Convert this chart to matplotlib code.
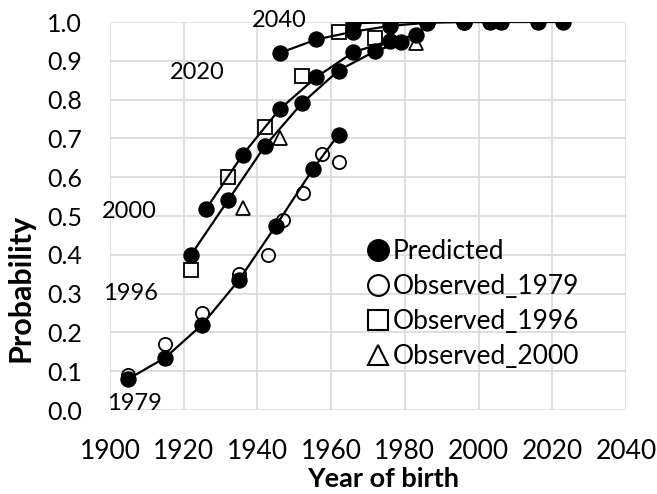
import matplotlib
matplotlib.use("Agg")
from matplotlib import pyplot as plt
from matplotlib.lines import Line2D

plt.rcParams['font.family'] = ['Lato', 'DejaVu Sans']

# predicted curves, one per survey year
pred_1979_x = [1905, 1915, 1925, 1935, 1945, 1955, 1962]
pred_1979_y = [0.08, 0.135, 0.22, 0.335, 0.475, 0.62, 0.71]
pred_1996_x = [1922, 1932, 1942, 1952, 1962, 1972, 1979]
pred_1996_y = [0.40, 0.54, 0.68, 0.79, 0.875, 0.925, 0.948]
pred_2000_x = [1926, 1936, 1946, 1956, 1966, 1976, 1983]
pred_2000_y = [0.517, 0.658, 0.775, 0.858, 0.922, 0.952, 0.966]
pred_2020_x = [1946, 1956, 1966, 1976, 1986, 1996, 2003]
pred_2020_y = [0.92, 0.955, 0.975, 0.99, 0.998, 1.0, 1.0]
pred_2040_x = [1966, 1976, 1986, 1996, 2006, 2016, 2023]
pred_2040_y = [0.997, 0.999, 1.0, 1.0, 1.0, 1.0, 1.0]

# observed
obs_1979_x = [1905, 1915, 1925, 1935, 1943, 1947, 1952.5, 1957.5, 1962]
obs_1979_y = [0.09, 0.17, 0.25, 0.35, 0.40, 0.49, 0.56, 0.66, 0.64]
obs_1996_x = [1922, 1932, 1942, 1952, 1962, 1972]
obs_1996_y = [0.36, 0.60, 0.73, 0.86, 0.975, 0.96]
obs_2000_x = [1936, 1946, 1983]
obs_2000_y = [0.52, 0.70, 0.945]

curve_labels = ["1979", "1996", "2000", "2020", "2040"]
label_x = [1906.5, 1905.5, 1905.2, 1923.6, 1945.9]
label_y = [0.018, 0.30, 0.512, 0.871, 1.005]

fig = plt.figure(figsize=(6.57, 4.94), dpi=100)
ax = fig.add_axes([110/657, 1-410/494, 516/657, 388/494])

curves = [(pred_1979_x, pred_1979_y), (pred_1996_x, pred_1996_y),
          (pred_2000_x, pred_2000_y), (pred_2020_x, pred_2020_y),
          (pred_2040_x, pred_2040_y)]
for cx, cy in curves:
    ax.plot(cx, cy, color='k', lw=1.6, marker='o', ms=10.8, zorder=3)

ax.plot(obs_1979_x, obs_1979_y, ls='none', marker='o', ms=9.5, mfc='none',
        mec='k', mew=1.3, zorder=4)
ax.plot(obs_1996_x, obs_1996_y, ls='none', marker='s', ms=9.5, mfc='none',
        mec='k', mew=1.3, zorder=4)
ax.plot(obs_2000_x, obs_2000_y, ls='none', marker='^', ms=10.5, mfc='none',
        mec='k', mew=1.3, zorder=4)

for t, lx, ly in zip(curve_labels, label_x, label_y):
    ax.text(lx, ly, t, ha='center', va='center', fontsize=17, clip_on=False)

ax.set_xlim(1900, 2040)
ax.set_ylim(0, 1.0)
ax.set_xticks(range(1900, 2041, 20))
ax.set_yticks([i/10 for i in range(11)])
ax.set_yticklabels([f"{i/10:.1f}" for i in range(11)])
ax.tick_params(length=0, labelsize=18)
ax.tick_params(axis='x', labelsize=19, pad=21)
ax.tick_params(axis='y', pad=20)
ax.grid(color='#d9d9d9', lw=1.2)
ax.set_axisbelow(True)
for s in ax.spines.values():
    s.set_visible(False)

ax.set_xlabel("Year of birth", fontsize=19.5, fontweight='bold')
ax.set_ylabel("Probability", fontsize=22, fontweight='bold')
ax.xaxis.set_label_coords(0.529, -0.147)
ax.yaxis.set_label_coords(-0.146, 0.314)

handles = [
    Line2D([], [], ls='none', marker='o', ms=15.5, color='k'),
    Line2D([], [], ls='none', marker='o', ms=15, mfc='none', mec='k', mew=1.5),
    Line2D([], [], ls='none', marker='s', ms=14, mfc='none', mec='k', mew=1.5),
    Line2D([], [], ls='none', marker='^', ms=15, mfc='none', mec='k', mew=1.5),
]
names = ["Predicted", "Observed_1979", "Observed_1996", "Observed_2000"]
ax.legend(handles, names, loc='upper left', bbox_to_anchor=(0.499, 0.44),
          frameon=False, fontsize=19, handlelength=0.8, handletextpad=0.15,
          borderpad=0, borderaxespad=0, labelspacing=0.38)

fig.savefig("out.png", dpi=100)
